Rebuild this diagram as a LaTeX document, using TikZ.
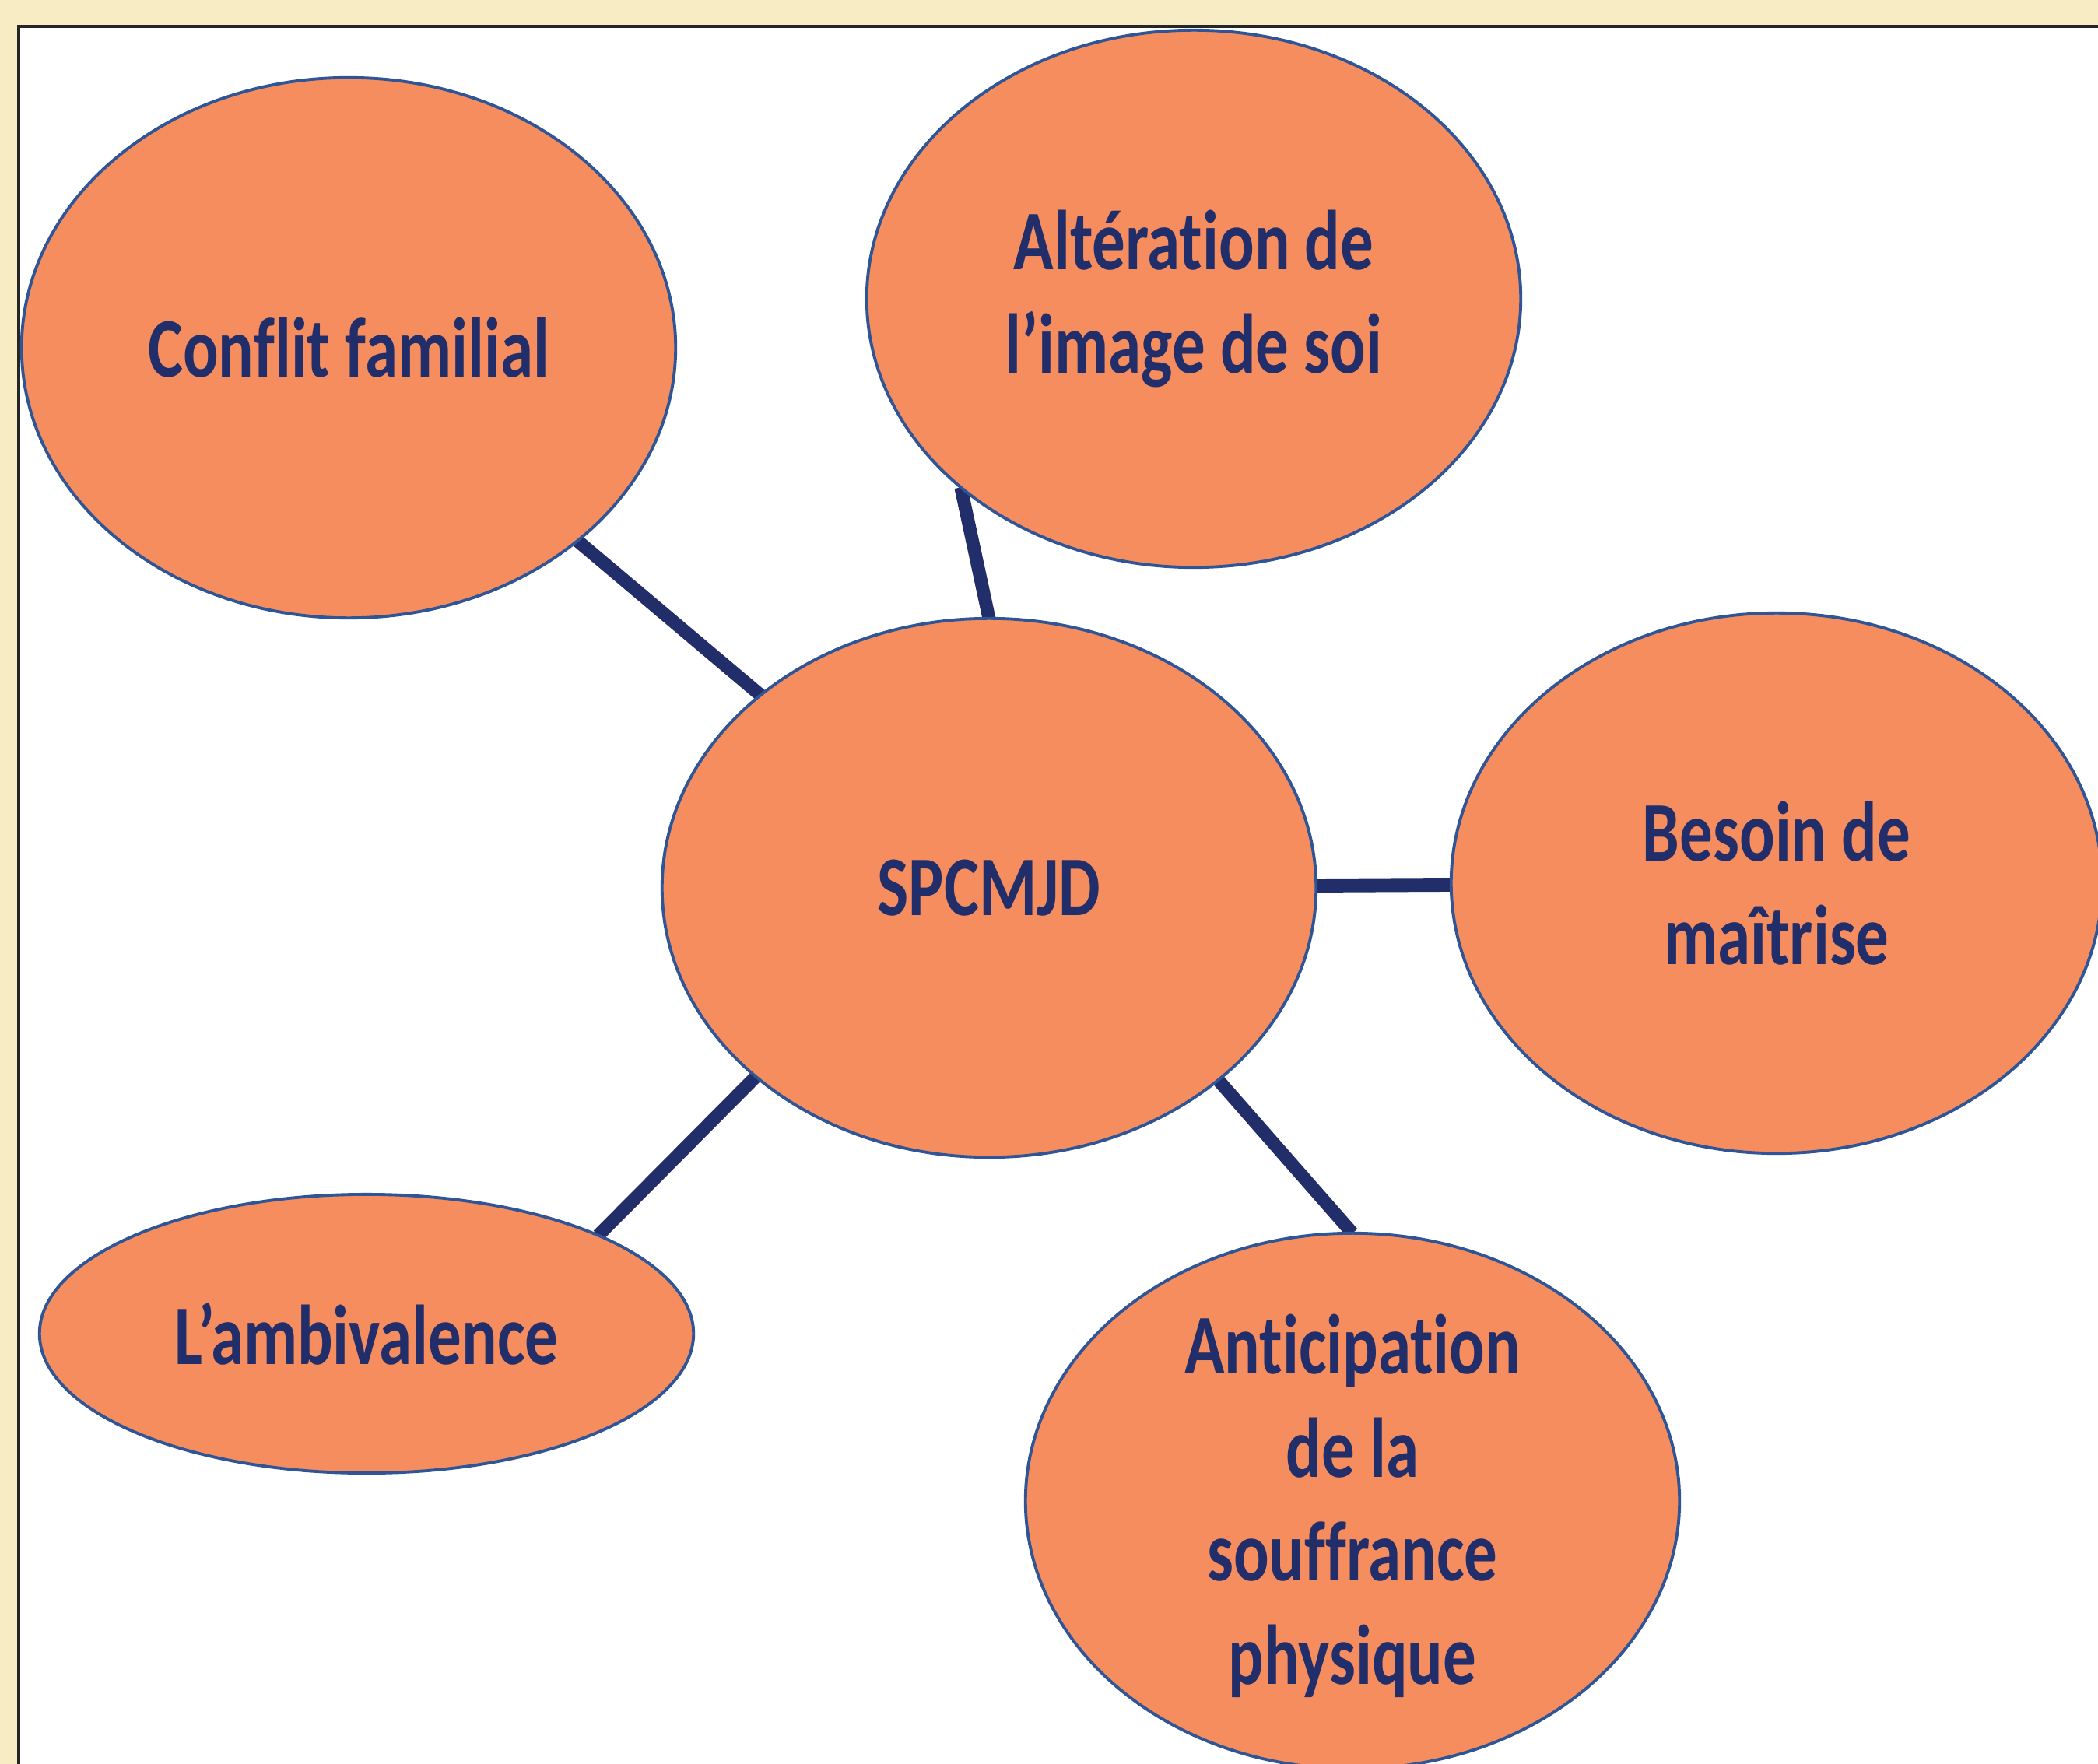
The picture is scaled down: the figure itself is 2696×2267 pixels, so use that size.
\documentclass[tikz,border=0pt]{standalone}
\usepackage{fontspec}
\newfontfamily\lblfont[FakeStretch=0.78,RawFeature={-liga}]{Carlito}
\usetikzlibrary{shapes.geometric,backgrounds}
\definecolor{beige}{HTML}{F8ECC5}
\definecolor{bubfill}{HTML}{F58D5E}
\definecolor{bubline}{HTML}{2F5597}
\definecolor{navy}{HTML}{222E6A}
\tikzset{
  bub/.style={ellipse, fill=bubfill, draw=bubline, line width=1.1pt, inner sep=0pt, outer sep=0pt},
  txt/.style={align=center, text=navy, font=\lblfont\bfseries\fontsize{31}{37.8}\selectfont, inner sep=0pt},
  link/.style={draw=navy, line width=4.8pt, line cap=butt}
}
\begin{document}
\begin{tikzpicture}[x=0.01cm, y=-0.01cm]
\useasboundingbox (0,0) rectangle (2696,2267);
\clip (0,0) rectangle (2696,2267);
\begin{scope}[on background layer]
  \fill[beige] (0,0) rectangle (2696,2267);
  \filldraw[fill=white, draw=black!85, line width=1.2pt] (2760,34) -- (24,34) -- (24,2330) -- (2760,2330) -- cycle;
\end{scope}
% ellipses
\node[bub, minimum width=8.40cm, minimum height=6.94cm] (conf) at (448,447) {};
\node[bub, minimum width=8.40cm, minimum height=6.90cm] (alt) at (1534,384) {};
\node[bub, minimum width=8.40cm, minimum height=6.92cm] (spc) at (1271,1141) {};
\node[bub, minimum width=8.36cm, minimum height=6.94cm] (bes) at (2283,1135) {};
\node[bub, minimum width=8.40cm, minimum height=3.58cm] (amb) at (471,1714) {};
\node[bub, minimum width=8.40cm, minimum height=6.88cm] (ant) at (1738,1929) {};
% texts
\node[txt] (conf-t) at (conf) {Conflit familial};
\node[txt] (alt-t) at (alt) {Altération de\\l’image de soi};
\node[txt] (spc-t) at (spc) {SPCMJD};
\node[txt] (bes-t) at (bes) {Besoin de\\maîtrise};
\node[txt] (amb-t) at (amb) {L’ambivalence};
\node[txt] (ant-t) at ([yshift=-0.06cm]ant) {Anticipation\\de la\\souffrance\\physique};
% connectors
\begin{scope}[on background layer]
  \draw[link] (conf) -- (spc);
  \draw[link] (alt.219.5) -- (spc.north);
  \draw[link] (spc) -- (bes);
  \draw[link] (spc.219.6) -- (amb.23.4);
  \draw[link] (spc.320.7) -- (ant.north);
\end{scope}
\end{tikzpicture}
\end{document}
